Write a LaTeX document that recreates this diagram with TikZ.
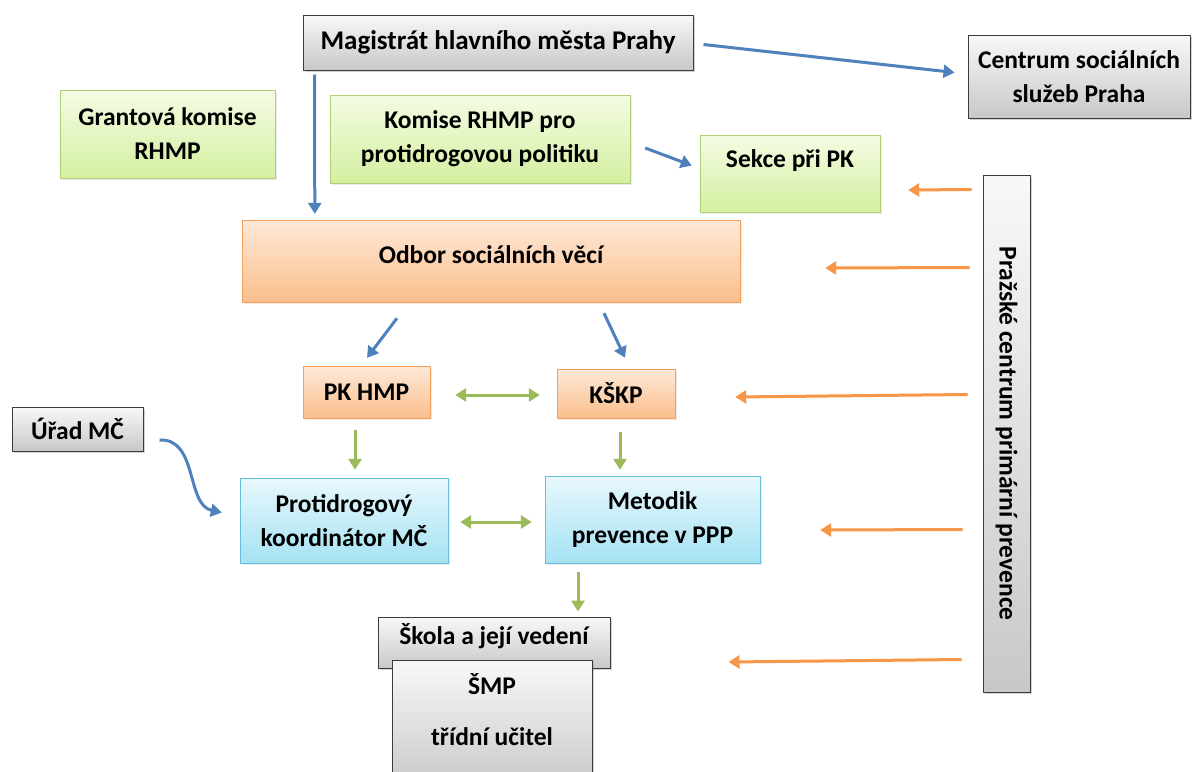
\documentclass[tikz,border=0pt]{standalone}
\usepackage{fontspec}
\usepackage{graphicx}
\setmainfont{Carlito}
\usetikzlibrary{arrows.meta,shadows}

\definecolor{arrblue}{RGB}{79,129,189}
\definecolor{arrgreen}{RGB}{155,187,89}
\definecolor{arrorange}{RGB}{247,150,70}
\definecolor{graytop}{RGB}{248,248,248}
\definecolor{graybot}{RGB}{200,200,200}
\definecolor{grayline}{RGB}{60,60,60}
\definecolor{greentop}{RGB}{244,252,228}
\definecolor{greenbot}{RGB}{212,239,160}
\definecolor{greenline}{RGB}{176,208,120}
\definecolor{orangetop}{RGB}{253,233,217}
\definecolor{orangebot}{RGB}{251,190,140}
\definecolor{orangeline}{RGB}{245,160,90}
\definecolor{bluetop}{RGB}{232,248,253}
\definecolor{bluebot}{RGB}{165,226,243}
\definecolor{blueline}{RGB}{100,190,220}

\begin{document}
\begin{tikzpicture}[x=1pt, y=-1pt,
    font=\fontsize{25.5}{34}\selectfont\bfseries,
    box/.style={rectangle, align=center, inner sep=0pt},
    graybox/.style={box, draw=grayline, line width=1pt, top color=graytop, bottom color=graybot,
        drop shadow={shadow xshift=1.5pt, shadow yshift=-1.5pt, opacity=0.35}},
    softshadow/.style={drop shadow={shadow xshift=1.5pt, shadow yshift=-1.5pt, opacity=0.15}},
    greenbox/.style={box, softshadow, draw=greenline, top color=greentop, bottom color=greenbot},
    orangebox/.style={box, softshadow, draw=orangeline, top color=orangetop, bottom color=orangebot},
    bluebox/.style={box, softshadow, draw=blueline, top color=bluetop, bottom color=bluebot},
    tip/.style={-{Triangle[length=11pt,width=13pt]}},
    bluearr/.style={tip, line width=3pt, draw=arrblue},
    greenarr/.style={tip, line width=3pt, draw=arrgreen},
    greendbl/.style={{Triangle[length=11pt,width=13pt]}-{Triangle[length=11pt,width=13pt]}, line width=3pt, draw=arrgreen},
    orangearr/.style={tip, line width=3pt, draw=arrorange}]

    \clip (0,0) rectangle (1198,771);
    \fill[white] (0,0) rectangle (1198,771);

    % Top
    \node[graybox, minimum width=390, minimum height=55, font=\fontsize{27}{34}\selectfont\bfseries] (mag) at (498,42.5)
        {Magistrát hlavního města Prahy};
    \node[graybox, minimum width=222, minimum height=83] (css) at (1079,76.5)
        {Centrum sociálních\\služeb Praha};

    % Komise
    \node[greenbox, minimum width=215, minimum height=88] (grant) at (167.5,134)
        {Grantová komise\\RHMP};
    \node[greenbox, minimum width=300, minimum height=88] (komise) at (480,139)
        {Komise RHMP pro\\protidrogovou politiku};
    \node[greenbox, minimum width=180, minimum height=77, text height=16pt, text depth=29pt] (sekce) at (790,173.5)
        {Sekce při PK};

    % Odbor
    \node[orangebox, minimum width=498, minimum height=82, text height=16pt, text depth=12pt] (odbor) at (491,261)
        {Odbor sociálních věcí};
    \node[orangebox, minimum width=127, minimum height=52] (pkhmp) at (366.5,392) {PK HMP};
    \node[orangebox, minimum width=118, minimum height=49] (kskp) at (616,393.5) {KŠKP};

    % MC
    \node[graybox, minimum width=131, minimum height=44] (urad) at (77.5,429) {Úřad MČ};
    \node[bluebox, minimum width=208, minimum height=85] (koord) at (344,520.5)
        {Protidrogový\\koordinátor MČ};
    \node[bluebox, minimum width=215, minimum height=87] (metodik) at (652.5,519.5)
        {Metodik\\prevence v PPP};

    % Skola
    \node[graybox, minimum width=232, minimum height=51, text height=16pt, text depth=12pt] (skola) at (494,642.5)
        {Škola a její vedení};
    \node[graybox, minimum width=200, minimum height=130] (smp) at (492,725)
        {ŠMP\\[17pt]třídní učitel\\[-4pt]\mbox{}};

    % PCPP
    \node[graybox, minimum width=47, minimum height=517] (pcpp) at (1006.5,433.5)
        {\rotatebox{-90}{Pražské centrum primární prevence}};

    % Arrows
    \draw[bluearr] ([shift={(12,4)}]mag.south west) -- ([shift={(73,-6)}]odbor.north west);
    \draw[bluearr] ([shift={(10,2)}]mag.east) -- ([shift={(-13,-4)}]css.west);
    \draw[bluearr] ([shift={(15,9)}]komise.east) -- ([shift={(-8,-8)}]sekce.west);
    \draw[bluearr] ([shift={(-94,16)}]odbor.south) -- ([shift={(0.5,-8)}]pkhmp.north);
    \draw[bluearr] ([shift={(113,11)}]odbor.south) -- ([shift={(9,-11)}]kskp.north);
    \draw[greendbl] ([shift={(25,3)}]pkhmp.east) -- ([shift={(-17,1.5)}]kskp.west);
    \draw[greenarr] ([shift={(-11.5,12)}]pkhmp.south) -- ([shift={(11,-8)}]koord.north);
    \draw[greenarr] ([shift={(4,14)}]kskp.south) -- ([shift={(-32.5,-6)}]metodik.north);
    \draw[greendbl] ([shift={(12,1.5)}]koord.east) -- ([shift={(-13,2.5)}]metodik.west);
    \draw[greenarr] ([shift={(-74.5,9)}]metodik.south) -- ([shift={(84,-5)}]skola.north);
    \draw[bluearr] ([shift={(16,11)}]urad.east) .. controls (198,438) and (186,505) .. ([shift={(-18,-8)}]koord.west);

    % Arrows from PCPP
    \draw[orangearr] ([shift={(-11,15)}]pcpp.north west) -- ([shift={(28,16.5)}]sekce.east);
    \draw[orangearr] ([shift={(-13,93)}]pcpp.north west) -- ([shift={(85,7)}]odbor.east);
    \draw[orangearr] ([shift={(-15,220)}]pcpp.north west) -- ([shift={(60,3.5)}]kskp.east);
    \draw[orangearr] ([shift={(-20,355)}]pcpp.north west) -- ([shift={(60,10.5)}]metodik.east);
    \draw[orangearr] ([shift={(-21,485)}]pcpp.north west) -- ([shift={(118,19.5)}]skola.east);

\end{tikzpicture}
\end{document}
